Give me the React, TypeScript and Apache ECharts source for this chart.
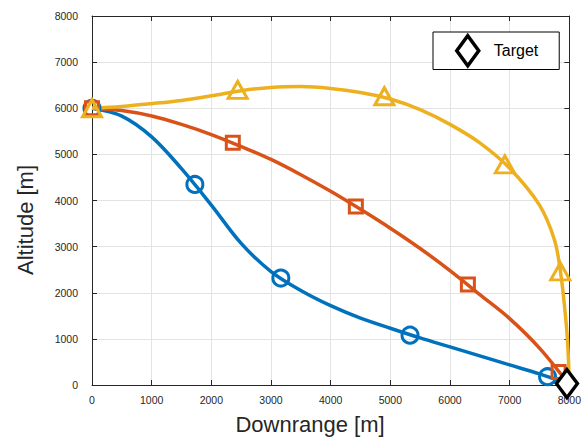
import React, { useEffect, useRef } from "react";
import * as echarts from "echarts";

// Trajectory paths (Downrange [m], Altitude [m])
const bluePath = [
  [0, 6000], [500, 5830], [1000, 5380], [1500, 4690], [2000, 3900], [2500, 3070],
  [3000, 2460], [3500, 2050], [4000, 1720], [4500, 1450], [5000, 1230], [5500, 1020],
  [6000, 825], [6500, 630], [7000, 435], [7500, 240], [8000, 20],
];
const blueMarkers = [[0, 6000], [1724, 4348], [3165, 2319], [5330, 1080], [7635, 180]];

const redPath = [
  [0, 6000], [500, 5950], [1000, 5833], [1500, 5650], [2000, 5430], [2500, 5170],
  [3000, 4891], [3500, 4560], [4000, 4200], [4500, 3810], [5000, 3400], [5500, 2960],
  [6000, 2480], [6500, 1960], [7000, 1440], [7500, 800], [8000, 0],
];
const redMarkers = [[0, 6000], [2360, 5250], [4422, 3870], [6300, 2180], [7820, 280]];

const yellowPath = [
  [0, 6000], [500, 6040], [1000, 6100], [1500, 6170], [2000, 6270], [2500, 6380],
  [3000, 6450], [3500, 6470], [4000, 6430], [4500, 6340], [5000, 6200], [5500, 5970],
  [6000, 5650], [6500, 5250], [7000, 4700], [7500, 3900], [7750, 3150], [7850, 2470],
  [7920, 1700], [7970, 950], [8000, 0],
];
const yellowMarkers = [[0, 6000], [2442, 6400], [4900, 6260], [6920, 4783], [7848, 2463]];

const targetPoint = [[7960, 30]];

const xTicks = [0, 1000, 2000, 3000, 4000, 5000, 6000, 7000, 8000];
const yTicks = [0, 1000, 2000, 3000, 4000, 5000, 6000, 7000, 8000];

const BLUE = "#0072BD";
const RED = "#D95319";
const YELLOW = "#EDB120";
const AXIS = "#262626";
const FONT = "Liberation Sans, Arial, Helvetica, sans-serif";

export default function App() {
  const ref = useRef<HTMLDivElement>(null);
  useEffect(() => {
    document.body.style.margin = "0";
    if (!ref.current) return;
    const chart = echarts.init(ref.current, null, { renderer: "svg" });
    const axisCommon = {
      min: 0,
      max: 8000,
      interval: 1000,
      axisLine: { show: true, onZero: false, lineStyle: { color: AXIS, width: 1 } },
      axisTick: { show: true, inside: true, length: 5, lineStyle: { color: AXIS } },
    };
    const lineSeries = (name: string, data: number[][], color: string) => ({
      name,
      type: "line",
      data,
      smooth: 0.35,
      symbol: "none",
      clip: false,
      lineStyle: { color, width: 3.5 },
      z: 2,
    });
    const markerSeries = (name: string, data: number[][], color: string, symbol: string, size: any) => ({
      name,
      type: "scatter",
      data,
      symbol,
      symbolSize: size,
      clip: false,
      itemStyle: { color: "transparent", borderColor: color, borderWidth: 3, opacity: 1 },
      z: 3,
    });
    chart.setOption({
      animation: false,
      backgroundColor: "#ffffff",
      textStyle: { fontFamily: FONT },
      grid: { left: 92, right: 7, top: 16, bottom: 53, containLabel: false },
      xAxis: [
        {
          type: "value",
          position: "bottom",
          ...axisCommon,
          splitLine: { show: true, lineStyle: { color: "#e3e3e3", width: 1 } },
          axisLabel: {
            color: AXIS,
            fontSize: 10.5,
            fontFamily: FONT,
            margin: 9,
            formatter: (v: number) => (xTicks.includes(v) ? String(v) : ""),
          },
        },
        {
          type: "value",
          position: "top",
          ...axisCommon,
          splitLine: { show: false },
          axisLabel: { show: false },
        },
      ],
      yAxis: [
        {
          type: "value",
          position: "left",
          ...axisCommon,
          splitLine: { show: true, lineStyle: { color: "#e3e3e3", width: 1 } },
          axisLabel: {
            color: AXIS,
            fontSize: 10.5,
            fontFamily: FONT,
            margin: 14,
            formatter: (v: number) => (yTicks.includes(v) ? String(v) : ""),
          },
        },
        {
          type: "value",
          position: "right",
          ...axisCommon,
          splitLine: { show: false },
          axisLabel: { show: false },
        },
      ],
      legend: {
        data: ["Target"],
        left: 433,
        top: 32,
        padding: [2, 21, 2, 22],
        itemWidth: 22,
        itemHeight: 30,
        symbolKeepAspect: false,
        borderColor: "#000",
        borderWidth: 1,
        backgroundColor: "#fff",
        itemStyle: { color: "#fff", borderColor: "#000", borderWidth: 3.5 },
        textStyle: { color: "#000", fontSize: 16, fontFamily: FONT, padding: [0, 0, 0, 10] },
      },
      graphic: [
        {
          type: "text",
          x: 310,
          y: 424,
          style: {
            text: "Downrange [m]",
            fontSize: 22,
            fontFamily: FONT,
            fill: AXIS,
            align: "center",
            verticalAlign: "middle",
          },
        },
        {
          type: "text",
          x: 25,
          y: 220,
          rotation: Math.PI / 2,
          style: {
            text: "Altitude [m]",
            fontSize: 22,
            fontFamily: FONT,
            fill: AXIS,
            align: "center",
            verticalAlign: "middle",
          },
        },
      ],
      series: [
        lineSeries("Blue", bluePath, BLUE),
        markerSeries("Blue markers", blueMarkers, BLUE, "circle", 16),
        lineSeries("Red", redPath, RED),
        markerSeries("Red markers", redMarkers, RED, "rect", 13),
        lineSeries("Yellow", yellowPath, YELLOW),
        markerSeries("Yellow markers", yellowMarkers, YELLOW, "triangle", [19, 17]),
        {
          name: "Target",
          type: "scatter",
          data: targetPoint,
          symbol: "diamond",
          symbolSize: [21, 28],
          clip: false,
          itemStyle: { color: "#ffffff", borderColor: "#000000", borderWidth: 3.5, opacity: 1 },
          z: 5,
        },
      ],
    });
    return () => chart.dispose();
  }, []);
  return <div ref={ref} style={{ width: 584, height: 438 }} />;
}
